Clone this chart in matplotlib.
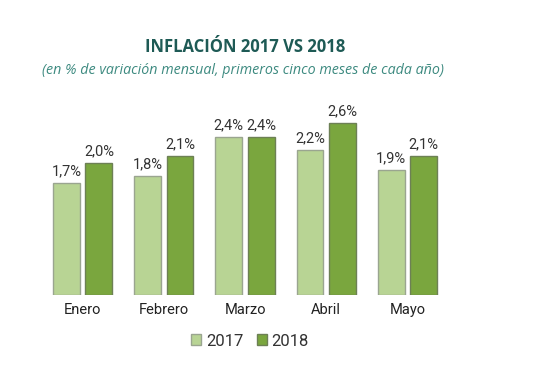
import matplotlib.pyplot as plt
import numpy as np

meses = ['Enero', 'Febrero', 'Marzo', 'Abril', 'Mayo']
v2017 = [1.7, 1.8, 2.4, 2.2, 1.9]
v2018 = [2.0, 2.1, 2.4, 2.6, 2.1]

col17 = '#b8d494'
col18 = '#7aa63e'
narrow = ['Roboto', 'DejaVu Sans']

fig = plt.figure(figsize=(5.57, 3.84), dpi=100)
ax = fig.add_axes([38 / 557, 89 / 384, 414 / 557, 198 / 384])

x = np.arange(len(meses))
w = 0.33
b1 = ax.bar(x - 0.2, v2017, w, color=col17, edgecolor='#9aa590', lw=1, label='2017')
b2 = ax.bar(x + 0.2, v2018, w, color=col18, edgecolor='#6d8055', lw=1, label='2018')

for bars, vals in ((b1, v2017), (b2, v2018)):
    for r, v in zip(bars, vals):
        ax.text(r.get_x() + r.get_width() / 2, v + 0.07, ('%.1f%%' % v).replace('.', ','),
                ha='center', va='bottom', fontsize=10.5, color='#333333', family=narrow)

ax.set_xlim(-0.55, 4.55)
ax.set_ylim(0, 3)
ax.set_xticks(x)
ax.set_xticklabels(meses, fontsize=10.5, color='#222222', family=narrow)
ax.tick_params(axis='x', length=0, pad=6)
ax.set_yticks([])
for s in ax.spines.values():
    s.set_visible(False)

leg = fig.legend(handles=[b1, b2], loc='center', bbox_to_anchor=(250 / 557, 1 - 341 / 384),
                 ncol=2, frameon=False, handlelength=0.6, handleheight=0.6,
                 handletextpad=0.3, columnspacing=0.8, prop={'family': narrow, 'size': 12})
for t in leg.get_texts():
    t.set_color('#333333')

fig.text(245 / 557, 1 - 47 / 384, 'INFLACIÓN 2017 VS 2018', ha='center', va='center',
         fontsize=12, fontweight='bold', color='#1e5a55', family=['Open Sans', 'DejaVu Sans'])
fig.text(243 / 557, 1 - 71 / 384, '(en % de variación mensual, primeros cinco meses de cada año)',
         ha='center', va='center', fontsize=10.3, style='italic', color='#3d8a80',
         family=['Open Sans', 'DejaVu Sans'])

fig.savefig('out.png', dpi=100)
